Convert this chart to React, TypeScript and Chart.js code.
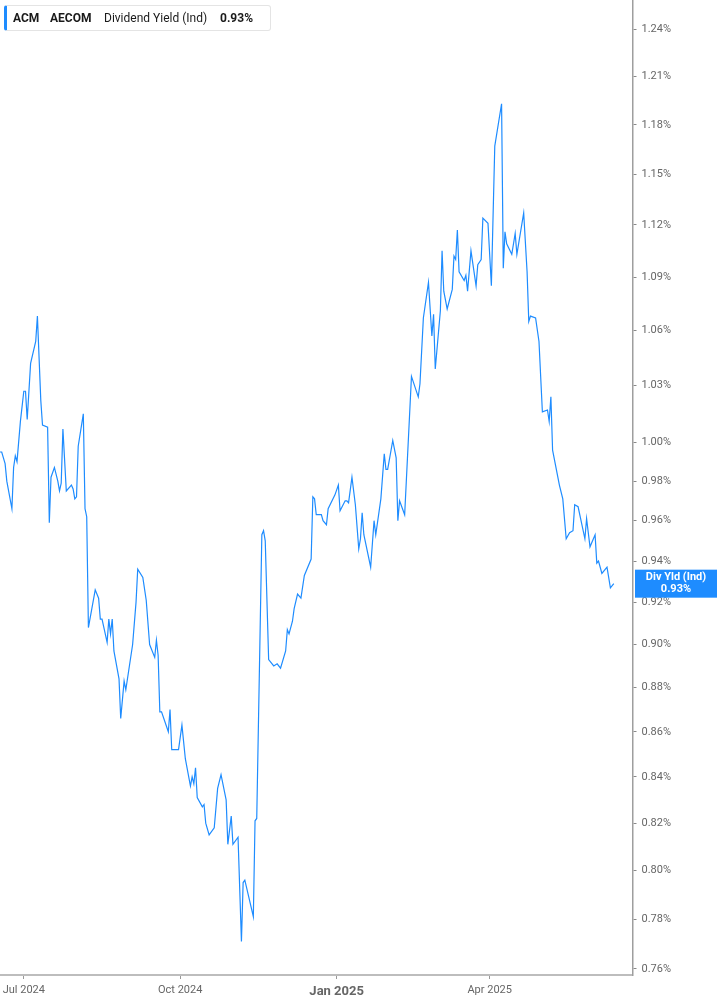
import React, { useEffect, useRef } from 'react';
import { Chart, registerables } from 'chart.js';

Chart.register(...registerables);

const dates: string[] = [
  '2024-06-17', '2024-06-18', '2024-06-20', '2024-06-21', '2024-06-24', '2024-06-25', '2024-06-26', '2024-06-27', '2024-06-29',
  '2024-07-01', '2024-07-02', '2024-07-03', '2024-07-05', '2024-07-08', '2024-07-09', '2024-07-11', '2024-07-12', '2024-07-15',
  '2024-07-16', '2024-07-17', '2024-07-19', '2024-07-21', '2024-07-22', '2024-07-23', '2024-07-24', '2024-07-26', '2024-07-29',
  '2024-07-30', '2024-07-31', '2024-08-01', '2024-08-02', '2024-08-05', '2024-08-06', '2024-08-07', '2024-08-08', '2024-08-12',
  '2024-08-14', '2024-08-15', '2024-08-16', '2024-08-19', '2024-08-20', '2024-08-21', '2024-08-22', '2024-08-23', '2024-08-26',
  '2024-08-27', '2024-08-29', '2024-08-30', '2024-09-03', '2024-09-05', '2024-09-06', '2024-09-09', '2024-09-11', '2024-09-13',
  '2024-09-16', '2024-09-17', '2024-09-18', '2024-09-19', '2024-09-20', '2024-09-24', '2024-09-25', '2024-09-26', '2024-09-30',
  '2024-10-02', '2024-10-04', '2024-10-07', '2024-10-08', '2024-10-09', '2024-10-10', '2024-10-11', '2024-10-14', '2024-10-15',
  '2024-10-16', '2024-10-18', '2024-10-21', '2024-10-23', '2024-10-25', '2024-10-28', '2024-10-29', '2024-10-31', '2024-11-01',
  '2024-11-04', '2024-11-06', '2024-11-07', '2024-11-08', '2024-11-13', '2024-11-14', '2024-11-15', '2024-11-18', '2024-11-19',
  '2024-11-20', '2024-11-22', '2024-11-25', '2024-11-27', '2024-11-29', '2024-12-02', '2024-12-03', '2024-12-04', '2024-12-06',
  '2024-12-07', '2024-12-09', '2024-12-11', '2024-12-13', '2024-12-17', '2024-12-18', '2024-12-19', '2024-12-20', '2024-12-23',
  '2024-12-24', '2024-12-26', '2024-12-27', '2024-12-31', '2025-01-02', '2025-01-03', '2025-01-06', '2025-01-07', '2025-01-08',
  '2025-01-10', '2025-01-12', '2025-01-14', '2025-01-15', '2025-01-16', '2025-01-17', '2025-01-21', '2025-01-23', '2025-01-24',
  '2025-01-27', '2025-01-29', '2025-01-30', '2025-01-31', '2025-02-03', '2025-02-05', '2025-02-06', '2025-02-07', '2025-02-10',
  '2025-02-14', '2025-02-18', '2025-02-19', '2025-02-21', '2025-02-24', '2025-02-26', '2025-02-27', '2025-02-28', '2025-03-03',
  '2025-03-04', '2025-03-05', '2025-03-07', '2025-03-10', '2025-03-11', '2025-03-12', '2025-03-13', '2025-03-14', '2025-03-17',
  '2025-03-18', '2025-03-19', '2025-03-21', '2025-03-24', '2025-03-25', '2025-03-27', '2025-03-28', '2025-03-31', '2025-04-02',
  '2025-04-04', '2025-04-08', '2025-04-09', '2025-04-10', '2025-04-11', '2025-04-14', '2025-04-16', '2025-04-17', '2025-04-21',
  '2025-04-23', '2025-04-24', '2025-04-25', '2025-04-28', '2025-04-30', '2025-05-02', '2025-05-05', '2025-05-06', '2025-05-07',
  '2025-05-08', '2025-05-12', '2025-05-14', '2025-05-16', '2025-05-18', '2025-05-20', '2025-05-21', '2025-05-23', '2025-05-27',
  '2025-05-28', '2025-05-30', '2025-06-02', '2025-06-03', '2025-06-04', '2025-06-06', '2025-06-09', '2025-06-11', '2025-06-13',
];

const yields: number[] = [
  0.995, 0.995, 0.989, 0.980, 0.966, 0.987, 0.993, 0.990, 1.011,
  1.027, 1.027, 1.012, 1.042, 1.054, 1.068, 1.022, 1.009, 1.008,
  0.959, 0.982, 0.987, 0.980, 0.975, 0.979, 1.007, 0.975, 0.978,
  0.976, 0.971, 0.972, 0.998, 1.015, 0.966, 0.962, 0.908, 0.926,
  0.922, 0.912, 0.912, 0.901, 0.912, 0.905, 0.912, 0.897, 0.884,
  0.866, 0.883, 0.879, 0.900, 0.920, 0.936, 0.932, 0.921, 0.900,
  0.894, 0.902, 0.895, 0.869, 0.869, 0.860, 0.870, 0.852, 0.852,
  0.863, 0.848, 0.836, 0.840, 0.837, 0.844, 0.831, 0.827, 0.828,
  0.820, 0.815, 0.818, 0.835, 0.841, 0.830, 0.811, 0.823, 0.811,
  0.814, 0.771, 0.795, 0.796, 0.781, 0.821, 0.822, 0.953, 0.955,
  0.950, 0.893, 0.890, 0.891, 0.889, 0.897, 0.907, 0.905, 0.911,
  0.917, 0.924, 0.922, 0.933, 0.941, 0.972, 0.971, 0.963, 0.963,
  0.960, 0.958, 0.966, 0.973, 0.978, 0.965, 0.970, 0.970, 0.969,
  0.982, 0.968, 0.946, 0.951, 0.964, 0.953, 0.937, 0.960, 0.953,
  0.971, 0.994, 0.986, 0.986, 1.001, 0.992, 0.960, 0.970, 0.963,
  1.035, 1.024, 1.031, 1.067, 1.087, 1.057, 1.069, 1.039, 1.071,
  1.105, 1.082, 1.072, 1.083, 1.102, 1.100, 1.117, 1.093, 1.088,
  1.091, 1.082, 1.105, 1.085, 1.097, 1.100, 1.124, 1.121, 1.085,
  1.167, 1.193, 1.095, 1.116, 1.109, 1.103, 1.115, 1.103, 1.127,
  1.093, 1.065, 1.068, 1.067, 1.054, 1.016, 1.017, 1.011, 1.024,
  0.996, 0.978, 0.971, 0.951, 0.954, 0.955, 0.968, 0.967, 0.951,
  0.961, 0.947, 0.953, 0.939, 0.940, 0.934, 0.937, 0.927, 0.929,
];

const yTicks: number[] = [1.24, 1.21, 1.18, 1.15, 1.12, 1.09, 1.06, 1.03, 1.0, 0.98, 0.96, 0.94, 0.92, 0.9, 0.88, 0.86, 0.84, 0.82, 0.8, 0.78, 0.76];
const xTickDates: string[] = ['2024-07-01', '2024-10-01', '2025-01-01', '2025-04-01'];
const xTickLabels: string[] = ['Jul 2024', 'Oct 2024', 'Jan 2025', 'Apr 2025'];
const boldTickLabel = 'Jan 2025';

const X_MIN = '2024-06-17';
const X_MAX = '2025-06-24';
const Y_MIN = 0.7576;
const Y_MAX = 1.2593;

const FONT = 'Roboto, "Liberation Sans", Arial, sans-serif';
const BLUE = '#1e8cff';

const toMs = (s: string) => Date.parse(s + 'T00:00:00Z');

const lastValuePlugin = {
  id: 'lastValue',
  afterDraw(chart: any) {
    const ctx = chart.ctx;
    const y = chart.scales.y;
    const last = yields[yields.length - 1];
    const py = y.getPixelForValue(last);
    const left = chart.chartArea.right + 2.5;
    const right = chart.width;
    const h = 28;
    ctx.save();
    ctx.fillStyle = BLUE;
    ctx.fillRect(left, py - h / 2, right - left, h);
    ctx.fillStyle = '#ffffff';
    ctx.font = `bold 11px ${FONT}`;
    ctx.textAlign = 'center';
    ctx.textBaseline = 'middle';
    const cx = (left + right) / 2;
    ctx.fillText('Div Yld (Ind)', cx, py - 6);
    ctx.fillText(last.toFixed(2) + '%', cx, py + 6);
    ctx.restore();
  },
};

export default function App() {
  const canvasRef = useRef<HTMLCanvasElement | null>(null);

  useEffect(() => {
    if (!canvasRef.current) return;
    const points = dates.map((d, i) => ({ x: toMs(d), y: yields[i] }));
    const chart = new Chart(canvasRef.current, {
      type: 'line',
      data: {
        datasets: [
          {
            data: points,
            borderColor: BLUE,
            borderWidth: 1.2,
            pointRadius: 0,
            tension: 0,
            fill: false,
          },
        ],
      },
      options: {
        animation: false,
        responsive: false,
        layout: { padding: 0 },
        plugins: { legend: { display: false }, tooltip: { enabled: false } },
        scales: {
          x: {
            type: 'linear',
            bounds: 'data',
            min: toMs(X_MIN),
            max: toMs(X_MAX),
            afterBuildTicks: (s: any) => {
              s.ticks = xTickDates.map((d) => ({ value: toMs(d) }));
            },
            afterFit: (s: any) => {
              s.height = 30;
              s.paddingLeft = 0;
              s.paddingRight = 0;
            },
            grid: { drawOnChartArea: false, drawTicks: true, tickLength: 4, tickColor: '#999', tickWidth: 1 },
            border: { display: true, color: '#bdbdbd', width: 2 },
            ticks: {
              autoSkip: false,
              maxRotation: 0,
              minRotation: 0,
              padding: 5,
              color: '#666',
              font: (c: any) =>
                xTickLabels[c.index] === boldTickLabel
                  ? { family: FONT, size: 13, weight: 'bold' }
                  : { family: FONT, size: 11 },
              callback: (_v: any, i: number) => xTickLabels[i],
            },
          } as any,
          y: {
            type: 'logarithmic',
            position: 'right',
            bounds: 'data',
            min: Y_MIN,
            max: Y_MAX,
            afterBuildTicks: (s: any) => {
              s.ticks = yTicks.map((v) => ({ value: v }));
            },
            afterFit: (s: any) => {
              s.width = 84.5;
              s.paddingTop = 0;
              s.paddingBottom = 0;
            },
            grid: { drawOnChartArea: false, drawTicks: true, tickLength: 4, tickColor: '#888', tickWidth: 1 },
            border: { display: true, color: '#9e9e9e', width: 1.5 },
            ticks: {
              autoSkip: false,
              padding: 5,
              color: '#666',
              font: { family: FONT, size: 11 },
              callback: (v: any) => Number(v).toFixed(2) + '%',
            },
          } as any,
        },
      },
      plugins: [lastValuePlugin],
    });
    return () => chart.destroy();
  }, []);

  const spanBase: React.CSSProperties = {
    position: 'absolute',
    top: 0,
    lineHeight: '24px',
    fontSize: 12,
    fontFamily: FONT,
    color: '#1a1a1a',
    whiteSpace: 'nowrap',
  };

  return (
    <div style={{ position: 'absolute', left: 0, top: 0, width: 717, height: 1005, background: '#fff' }}>
      <canvas ref={canvasRef} width={717} height={1005} style={{ display: 'block', width: 717, height: 1005 }} />
      <div
        style={{
          position: 'absolute',
          left: 4,
          top: 5,
          width: 263,
          height: 24,
          background: '#fff',
          border: '1px solid #e4e4e4',
          borderLeft: `3px solid ${BLUE}`,
          borderRadius: 3,
        }}
      >
        <span style={{ ...spanBase, left: 6, fontWeight: 700 }}>ACM</span>
        <span style={{ ...spanBase, left: 43, fontWeight: 700 }}>AECOM</span>
        <span style={{ ...spanBase, left: 97 }}>Dividend Yield (Ind)</span>
        <span style={{ ...spanBase, left: 213, fontWeight: 700 }}>{yields[yields.length - 1].toFixed(2)}%</span>
      </div>
    </div>
  );
}
